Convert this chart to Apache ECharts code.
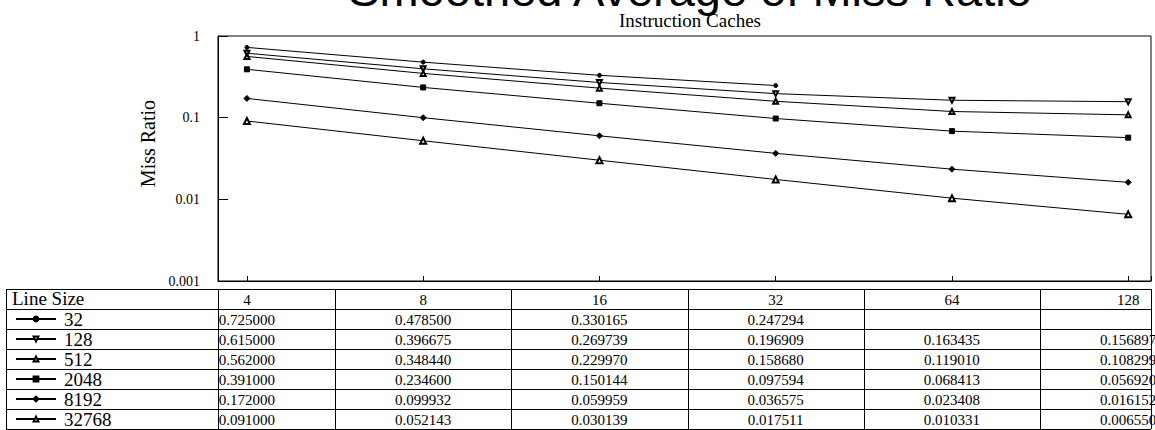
<!DOCTYPE html>
<html>
<head>
<meta charset="utf-8">
<script src="https://cdn.jsdelivr.net/npm/echarts@6/dist/echarts.min.js"></script>
<style>
html,body{margin:0;padding:0;background:#fff;}
#c{width:1155px;height:430px;}
</style>
</head>
<body>
<div id="c"></div>
<script>
// ---- data ----
const lineSizes = [4, 8, 16, 32, 64, 128];
const seriesNames = ['32', '128', '512', '2048', '8192', '32768'];
const miss32    = [0.725000, 0.478500, 0.330165, 0.247294, null, null];
const miss128   = [0.615000, 0.396675, 0.269739, 0.196909, 0.163435, 0.156897];
const miss512   = [0.562000, 0.348440, 0.229970, 0.158680, 0.119010, 0.108299];
const miss2048  = [0.391000, 0.234600, 0.150144, 0.097594, 0.068413, 0.056920];
const miss8192  = [0.172000, 0.099932, 0.059959, 0.036575, 0.023408, 0.016152];
const miss32768 = [0.091000, 0.052143, 0.030139, 0.017511, 0.010331, 0.006550];
const yTickValues = [1, 0.1, 0.01, 0.001];
const yTickLabels = ['1', '0.1', '0.01', '0.001'];
const titleText = 'Smoothed Average of Miss Ratio';
const subtitleText = 'Instruction Caches';
const tableHeader = 'Line Size';

const allSeries = [miss32, miss128, miss512, miss2048, miss8192, miss32768];

// ---- styles ----
const serif = 'Liberation Serif';
const sans = 'Liberation Sans';
const symbolStyles = [
  { symbol: 'circle', size: 4, rotate: 0 },
  { symbol: 'emptyTriangle', size: 5, rotate: 180 },
  { symbol: 'emptyTriangle', size: 5, rotate: 0 },
  { symbol: 'rect', size: 5, rotate: 0 },
  { symbol: 'diamond', size: 6, rotate: 0 },
  { symbol: 'emptyTriangle', size: 6, rotate: 0 }
];

const chart = echarts.init(document.getElementById('c'), null, { renderer: 'svg' });

const series = allSeries.map((vals, i) => ({
  name: seriesNames[i],
  type: 'line',
  data: lineSizes.map((x, j) => [x, vals[j]]).filter(p => p[1] !== null),
  symbol: symbolStyles[i].symbol,
  symbolSize: symbolStyles[i].size,
  symbolRotate: symbolStyles[i].rotate,
  showAllSymbol: true,
  lineStyle: { color: '#000', width: 1 },
  itemStyle: { color: '#000', borderColor: '#000', borderWidth: 1 },
  emphasis: { disabled: true },
  animation: false
}));

chart.setOption({
  animation: false,
  backgroundColor: '#fff',
  title: [
    { text: titleText, left: 685, textAlign: 'center', top: -39,
      textStyle: { fontFamily: sans, fontSize: 47, fontWeight: 'normal', color: '#000' } },
    { text: subtitleText, left: 685, textAlign: 'center', top: 6,
      textStyle: { fontFamily: serif, fontSize: 19, fontWeight: 'normal', color: '#000' } }
  ],
  legend: {
    orient: 'vertical', left: 15, top: 309, height: 140, padding: 0,
    itemWidth: 40, itemHeight: 6, itemGap: 0,
    selectedMode: false,
    textStyle: { fontFamily: serif, fontSize: 19, color: '#000', lineHeight: 20, padding: [0, 0, 0, 3] },
    data: seriesNames
  },
  grid: { left: 218, right: 4, top: 36, bottom: 149, show: true, borderColor: '#000', borderWidth: 1, containLabel: false },
  xAxis: {
    type: 'log', logBase: 2, min: 3.57, max: 140,
    axisLine: { lineStyle: { color: '#000', width: 1 } },
    axisTick: { inside: true, length: 5, lineStyle: { color: '#000' } },
    axisLabel: { show: false },
    splitLine: { show: false },
    minorTick: { show: false }
  },
  yAxis: {
    type: 'log', logBase: 10, min: 0.001, max: 1,
    name: 'Miss Ratio', nameLocation: 'middle', nameGap: 58,
    nameTextStyle: { fontFamily: serif, fontSize: 20, color: '#000', padding: [0, 0, 0, 30] },
    axisLine: { lineStyle: { color: '#000', width: 1 } },
    axisTick: { inside: true, length: 10, lineStyle: { color: '#000' } },
    axisLabel: {
      fontFamily: serif, fontSize: 14, color: '#000', margin: 18,
      formatter: v => {
        const k = yTickValues.findIndex(t => Math.abs(Math.log10(t) - Math.log10(v)) < 1e-6);
        return k >= 0 ? yTickLabels[k] : '';
      }
    },
    splitLine: { show: false },
    minorTick: { show: false }
  },
  tooltip: { show: false },
  series: series
});

// ---- data table below the plot, columns aligned through the x scale ----
const px = lineSizes.map(v => chart.convertToPixel({ xAxisIndex: 0 }, v));
const xLeft = chart.convertToPixel({ xAxisIndex: 0 }, 3.57);
const xRight = chart.convertToPixel({ xAxisIndex: 0 }, 140);
const tableLeft = 6;
const rowTop = 289, rowH = 20, nRows = 1 + seriesNames.length;
const els = [];
const line = (x1, y1, x2, y2) => els.push({
  type: 'line', silent: true,
  shape: { x1, y1, x2, y2 },
  style: { stroke: '#000', lineWidth: 1 }
});
for (let r = 0; r <= nRows; r++) {
  const y = Math.round(rowTop + r * rowH) + 0.5;
  line(tableLeft, y, xRight, y);
}
const vX = [tableLeft, xLeft];
for (let i = 0; i < px.length - 1; i++) vX.push((px[i] + px[i + 1]) / 2);
vX.push(xRight);
vX.forEach(x => { const xx = Math.round(x) + 0.5; line(xx, rowTop, xx, rowTop + nRows * rowH); });

const txt = (text, x, y, size, align) => els.push({
  type: 'text', silent: true, x, y,
  style: { text, fill: '#000', font: size + 'px "' + serif + '"',
           textAlign: align, textVerticalAlign: 'middle', align: align, verticalAlign: 'middle' }
});
txt(tableHeader, 12, rowTop + rowH / 2 - 1, 19, 'left');
lineSizes.forEach((s, j) => txt(String(s), px[j], rowTop + rowH / 2 + 1, 15, 'center'));
allSeries.forEach((vals, i) => {
  const yc = rowTop + (i + 1) * rowH + rowH / 2 + 1;
  vals.forEach((v, j) => { if (v !== null) txt(v.toFixed(6), px[j], yc, 15, 'center'); });
});
chart.setOption({ graphic: { elements: els } });
</script>
</body>
</html>
